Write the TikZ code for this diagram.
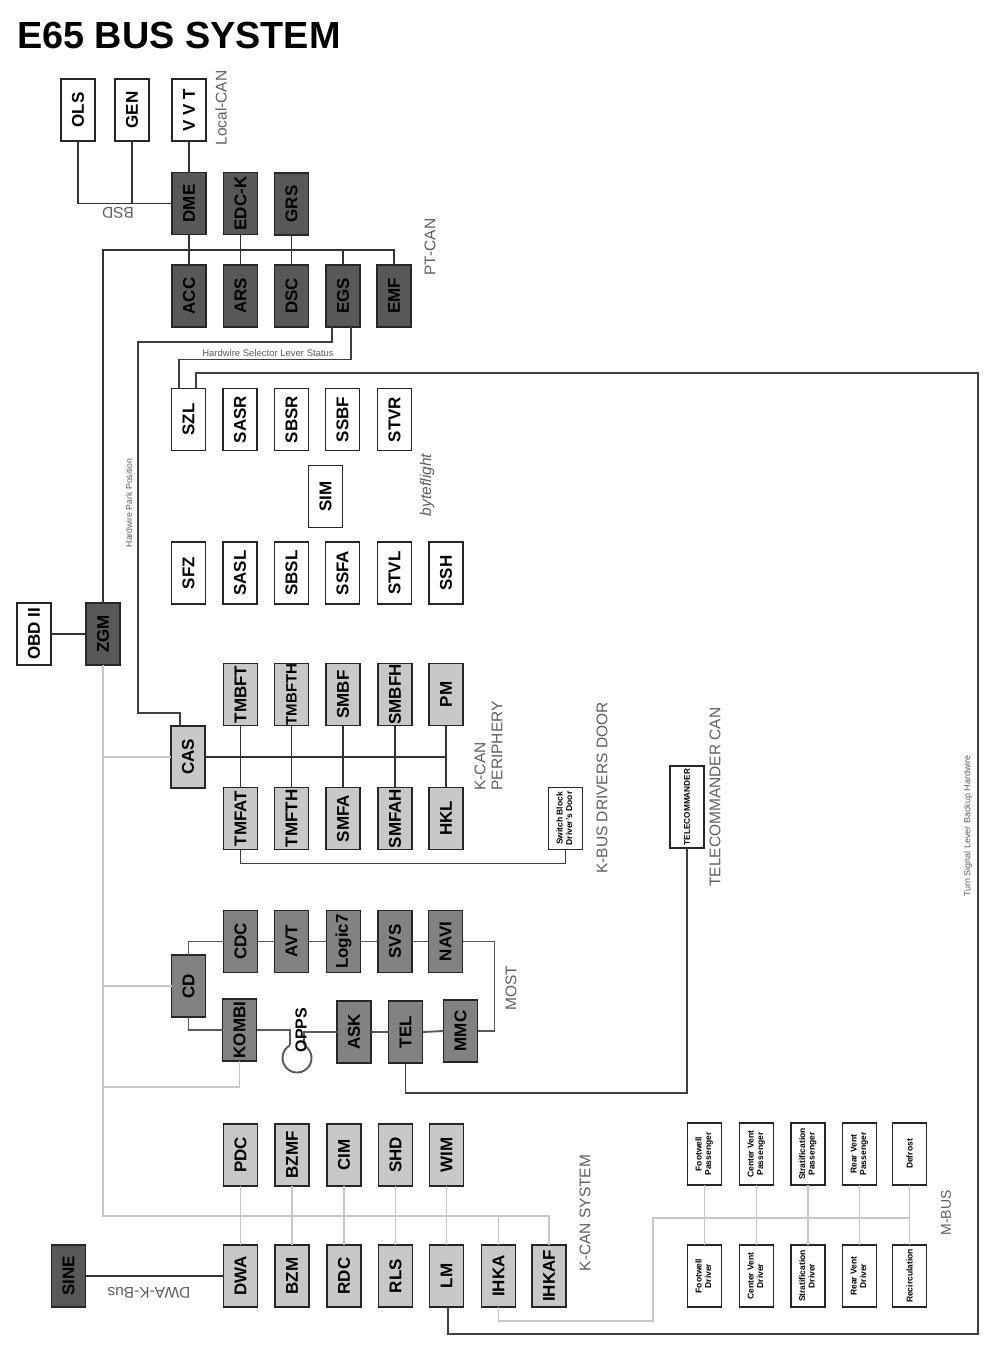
\documentclass[tikz,border=0pt]{standalone}
\usepackage{fontspec}
\setmainfont{Liberation Sans}
\usetikzlibrary{calc}
\definecolor{dkfill}{RGB}{88,88,88}
\definecolor{mdfill}{RGB}{130,130,130}
\definecolor{ltfill}{RGB}{200,200,200}
\definecolor{lbl}{RGB}{95,95,95}
\newcommand\rot[1]{\rotatebox{90}{#1}}
\newcommand\tw[2]{\rotatebox{90}{\begin{tabular}{@{}c@{}}#1\\#2\end{tabular}}}
\begin{document}
\begin{tikzpicture}[x=1pt,y=-1pt,
 ecu/.style={draw=black!85, line width=1.3pt, minimum width=34pt, minimum height=62pt, inner sep=0pt, outer sep=0pt, font=\bfseries\fontsize{17}{17}\selectfont},
 wbox/.style={ecu, fill=white},
 dbox/.style={ecu, fill=dkfill},
 mbox/.style={ecu, fill=mdfill},
 lbox/.style={ecu, fill=ltfill},
 small/.style={font=\bfseries\fontsize{8.5}{9.5}\selectfont, align=center},
 lab/.style={text=lbl, font=\fontsize{15.5}{17}\selectfont, inner sep=0pt},
 dk/.style={draw=black!80, line width=1.9pt},
 hw/.style={draw=black!75, line width=1.3pt},
 ml/.style={draw=black!65, line width=1.9pt},
 gl/.style={draw=black!22, line width=1.6pt},
]
\useasboundingbox (0,0) rectangle (1000,1355);
\fill[white] (0,0) rectangle (1000,1355);

% title
\node[anchor=base west, inner sep=0pt, font=\bfseries\fontsize{37.8}{37.8}\selectfont] (title) at (17,48) {E65 BUS SYSTEM};

% ---------- top / PT-CAN ----------
\node[wbox] (OLS) at (78,110) {\rot{OLS}};
\node[wbox] (GEN) at (132,110) {\rot{GEN}};
\node[wbox] (VVT) at (189,110) {\rot{V V T}};
\node[dbox] (DME) at (189,203.5) {\rot{DME}};
\node[dbox] (EDCK) at (240.5,203.5) {\rot{EDC-K}};
\node[dbox] (GRS) at (291.5,204) {\rot{GRS}};
\node[dbox] (ACC) at (189,296) {\rot{ACC}};
\node[dbox] (ARS) at (240.5,296) {\rot{ARS}};
\node[dbox] (DSC) at (291.5,296) {\rot{DSC}};
\node[dbox] (EGS) at (343,296) {\rot{EGS}};
\node[dbox] (EMF) at (394,296) {\rot{EMF}};

% ---------- byteflight ----------
\node[wbox] (SZL) at (188.5,419.5) {\rot{SZL}};
\node[wbox] (SASR) at (240,419.5) {\rot{SASR}};
\node[wbox] (SBSR) at (291.5,419.5) {\rot{SBSR}};
\node[wbox] (SSBF) at (342.5,419.5) {\rot{SSBF}};
\node[wbox] (STVR) at (394.5,419.5) {\rot{STVR}};
\node[wbox] (SIM) at (325.5,496.5) {\rot{SIM}};
\node[wbox] (SFZ) at (188.5,573) {\rot{SFZ}};
\node[wbox] (SASL) at (240,573) {\rot{SASL}};
\node[wbox] (SBSL) at (291.5,573) {\rot{SBSL}};
\node[wbox] (SSFA) at (342.5,573) {\rot{SSFA}};
\node[wbox] (STVL) at (394.5,573) {\rot{STVL}};
\node[wbox] (SSH) at (446,573) {\rot{SSH}};

% ---------- gateway ----------
\node[wbox] (OBD) at (34,634) {\rot{OBD II}};
\node[dbox] (ZGM) at (103,634) {\rot{ZGM}};

% ---------- K-CAN periphery ----------
\node[lbox] (CAS) at (188,757) {\rot{CAS}};
\node[lbox] (TMBFT) at (240.5,694.5) {\rot{TMBFT}};
\node[lbox, font=\bfseries\fontsize{15}{15}\selectfont] (TMBFTH) at (291.5,694.5) {\rot{TMBFTH}};
\node[lbox] (SMBF) at (343,694.5) {\rot{SMBF}};
\node[lbox] (SMBFH) at (395,694.5) {\rot{SMBFH}};
\node[lbox] (PM) at (446,694.5) {\rot{PM}};
\node[lbox] (TMFAT) at (240.5,818.5) {\rot{TMFAT}};
\node[lbox] (TMFTH) at (291.5,818.5) {\rot{TMFTH}};
\node[lbox] (SMFA) at (343,818.5) {\rot{SMFA}};
\node[lbox] (SMFAH) at (395,818.5) {\rot{SMFAH}};
\node[lbox] (HKL) at (446,818.5) {\rot{HKL}};
\node[wbox, small] (SWB) at (565.5,818.5) {\tw{Switch Block}{Driver's Door}};
\node[wbox, minimum height=82pt, font=\bfseries\fontsize{8.2}{8.2}\selectfont] (TC) at (687,807) {\rot{TELECOMMANDER}};

% ---------- MOST ----------
\node[mbox] (CD) at (188.5,986) {\rot{CD}};
\node[mbox] (CDC) at (240.5,941.5) {\rot{CDC}};
\node[mbox] (AVT) at (291.5,941.5) {\rot{AVT}};
\node[mbox] (Logic) at (343.5,941.5) {\rot{Logic7}};
\node[mbox] (SVS) at (395,941.5) {\rot{SVS}};
\node[mbox] (NAVI) at (445.5,941.5) {\rot{NAVI}};
\node[mbox] (KOMBI) at (239.5,1030) {\rot{KOMBI}};
\node[mbox] (ASK) at (354,1032) {\rot{ASK}};
\node[mbox] (TEL) at (405.5,1032) {\rot{TEL}};
\node[mbox] (MMC) at (460.5,1031) {\rot{MMC}};
\node[circle, draw=none, minimum size=29pt, inner sep=0pt, outer sep=0pt] (opps) at (297,1058) {};

% ---------- K-CAN system ----------
\node[lbox] (PDC) at (240.5,1155) {\rot{PDC}};
\node[lbox] (BZMF) at (292,1155) {\rot{BZMF}};
\node[lbox] (CIM) at (344,1155) {\rot{CIM}};
\node[lbox] (SHD) at (395.5,1155) {\rot{SHD}};
\node[lbox] (WIM) at (446.5,1155) {\rot{WIM}};
\node[dbox] (SINE) at (68.5,1276) {\rot{SINE}};
\node[lbox] (DWA) at (240.5,1276) {\rot{DWA}};
\node[lbox] (BZM) at (292,1276) {\rot{BZM}};
\node[lbox] (RDC) at (344,1276) {\rot{RDC}};
\node[lbox] (RLS) at (395.5,1276) {\rot{RLS}};
\node[lbox] (LM) at (446.5,1276) {\rot{LM}};
\node[lbox] (IHKA) at (498.5,1276) {\rot{IHKA}};
\node[lbox] (IHKAF) at (549,1276) {\rot{IHKAF}};

% ---------- M-BUS ----------
\node[wbox, small] (FP) at (704.5,1154) {\tw{Footwell}{Passenger}};
\node[wbox, small] (CP) at (756.5,1154) {\tw{Center Vent}{Passenger}};
\node[wbox, small] (SP) at (808,1154) {\tw{Stratification}{Passenger}};
\node[wbox, small] (RP) at (859.5,1154) {\tw{Rear Vent}{Passenger}};
\node[wbox, small] (DF) at (909.5,1154) {\rot{Defrost}};
\node[wbox, small] (FD) at (704.5,1276) {\tw{Footwell}{Driver}};
\node[wbox, small] (CDr) at (756.5,1276) {\tw{Center Vent}{Driver}};
\node[wbox, small] (SD) at (808,1276) {\tw{Stratification}{Driver}};
\node[wbox, small] (RD) at (859.5,1276) {\tw{Rear Vent}{Driver}};
\node[wbox, small] (RC) at (909.5,1276) {\rot{Recirculation}};

% ---------- connectors ----------
\draw[dk] (OLS.south) |- (DME.west);
\draw[dk] (GEN.south) -- (GEN.south |- DME.west);
\draw[dk] (VVT.south) -- (DME.north);
\coordinate (ptR) at (394,250);
\draw[dk] (ZGM.north) |- (ptR) -- (EMF.north);
\draw[dk] (DME.south) -- (ACC.north);
\draw[dk] (EDCK.south) -- (ARS.north);
\draw[dk] (GRS.south) -- (DSC.north);
\draw[dk] (EGS.north) -- (EGS.north |- ptR);
\draw[dk] (OBD.east) -- (ZGM.west);

\draw[hw] ($(EGS.south)+(-11,0)$) |- (138,342) |- ($(CAS.north)+(-8,-13)$) -- ($(CAS.north)+(-8,0)$);
\draw[hw] ($(EGS.south)+(8,0)$) |- ($(SZL.north)+(-9.5,-29)$) -- ($(SZL.north)+(-9.5,0)$);
\coordinate (tsR) at (978,373);
\draw[hw] ($(SZL.north)+(7.5,0)$) |- (tsR) |- ($(LM.south)+(1.5,27)$) -- ($(LM.south)+(1.5,0)$);

% K-CAN (gray)
\coordinate (kcR) at (549,1216);
\draw[gl] (ZGM.south) |- (kcR) -- (IHKAF.north);
\draw[gl] (CAS.west) -- (CAS.west -| ZGM.south);
\draw[gl] (CD.west) -- (CD.west -| ZGM.south);
\draw[gl] (KOMBI.south) |- (ZGM.south |- 0,1087);
\draw[gl] (PDC.south) -- (DWA.north);
\draw[gl] (BZMF.south) -- (BZM.north);
\draw[gl] (CIM.south) -- (RDC.north);
\draw[gl] (SHD.south) -- (RLS.north);
\draw[gl] (WIM.south) -- (LM.north);
\draw[gl] (IHKA.north) -- (IHKA.north |- kcR);

% K-CAN periphery
\draw[dk] (CAS.east) -- (CAS.east -| PM.south);
\draw[dk] (TMBFT.south) -- (TMFAT.north);
\draw[dk] (TMBFTH.south) -- (TMFTH.north);
\draw[dk] (SMBF.south) -- (SMFA.north);
\draw[dk] (SMBFH.south) -- (SMFAH.north);
\draw[dk] (PM.south) -- (HKL.north);
\draw[hw] (TMFAT.south) |- ($(SWB.south)+(0,14)$) -- (SWB.south);

% MOST ring
\draw[ml] (CD.north) |- (CDC.west);
\draw[ml] (CDC.east) -- (AVT.west);
\draw[ml] (AVT.east) -- (Logic.west);
\draw[ml] (Logic.east) -- (SVS.west);
\draw[ml] (SVS.east) -- (NAVI.west);
\draw[ml] (NAVI.east) -| ($(MMC.east)+(17,0)$) -- (MMC.east);
\draw[ml] (CD.south) |- (KOMBI.west);
\draw[ml] (KOMBI.east) -- (KOMBI.east -| opps.120) -- (opps.120);
\draw[ml] (opps.120) arc[start angle=120, end angle=420, radius=14.5pt];
\draw[ml] (opps.60) -- (opps.60 |- ASK.west) -- (ASK.west);
\draw[ml] (ASK.east) -- (TEL.west);
\draw[ml] (TEL.east) -- (MMC.west);
\draw[hw] (TEL.south) |- ($(TC.south)+(0,245)$) -- (TC.south);

% DWA-K-Bus
\draw[dk] (SINE.east) -- (DWA.west);

% M-BUS
\coordinate (mbR) at (909.5,1218);
\draw[gl] (IHKA.south) |- (653,1321) |- (mbR);
\draw[gl] (FP.south) -- (FD.north);
\draw[gl] (CP.south) -- (CDr.north);
\draw[gl] (SP.south) -- (SD.north);
\draw[gl] (RP.south) -- (RD.north);
\draw[gl] (DF.south) -- (RC.north);

% ---------- labels ----------
\node[lab, rotate=90] (lLocal) at (221,108) {Local-CAN};
\node[lab, rotate=180] (lBSD) at (118,213) {BSD};
\node[lab, rotate=90] (lPT) at (430,247) {PT-CAN};
\node[lab, font=\fontsize{9.5}{9.5}\selectfont] (lHSL) at (268,353) {Hardwire Selector Lever Status};
\node[lab, rotate=90, font=\fontsize{8.7}{8.7}\selectfont] (lHPP) at (129,503) {Hardwire Park Position};
\node[lab, rotate=90, font=\itshape\fontsize{15.5}{15.5}\selectfont] (lbf) at (427,485) {byteflight};
\node[lab, rotate=90, align=left] (lKP) at (488.5,746) {K-CAN\\PERIPHERY};
\node[lab, rotate=90] (lKB) at (602,788) {K-BUS DRIVERS DOOR};
\node[lab, rotate=90] (lTC) at (715,797) {TELECOMMANDER CAN};
\node[lab, rotate=90, font=\fontsize{9}{9}\selectfont] (lTS) at (968,826) {Turn Signal Lever Backup Hardwire};
\node[lab, rotate=90] (lMOST) at (511,988) {MOST};
\node[rotate=90, inner sep=0pt, font=\bfseries\fontsize{16}{16}\selectfont] (lOPPS) at (301,1030) {OPPS};
\node[lab, rotate=180] (lDWA) at (149,1293) {DWA-K-Bus};
\node[lab, rotate=90] (lKS) at (585,1213) {K-CAN SYSTEM};
\node[lab, rotate=90, font=\fontsize{14}{14}\selectfont] (lMB) at (946,1213) {M-BUS};
\end{tikzpicture}
\end{document}
